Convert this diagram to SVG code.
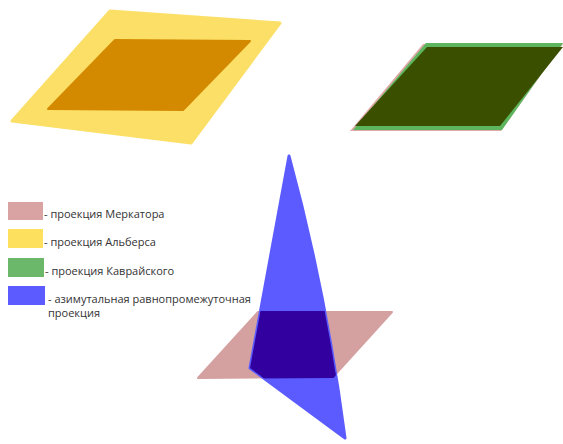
<svg xmlns="http://www.w3.org/2000/svg" width="563" height="444" viewBox="0 0 563 444">
<style>
.t{font-family:"Open Sans","Liberation Sans",sans-serif;font-size:11px;fill:#333}
.r{stroke-linejoin:round}
</style>
<defs>
<clipPath id="blueClip"><path d="M289,156 Q326,292 345,438 L250,368 Z"/></clipPath>
</defs>
<rect width="563" height="444" fill="#fff"/>
<g id="albers">
<polygon class="r" points="110,11 280,23 191,143 12,121" fill="#FBDF66" stroke="#FBDF66" stroke-width="3"/>
<polygon class="r" points="115,40 250,41 183,110 48,109" fill="#D48A00" stroke="#D48A00" stroke-width="2"/>
</g>
<g id="kavraisky">
<polygon points="423,44 563,44 501,131 350,131" fill="#E0A8A8"/>
<polygon points="426,43 563,43 502,130 353,130" fill="#5DB55D"/>
<polygon points="427,47 563,47 500,126 355,126" fill="#3A5000"/>
</g>
<g id="mercator-azimuthal">
<polygon class="r" points="258,312 392,312 333,377 198,378" fill="#D4A0A0" stroke="#D4A0A0" stroke-width="2"/>
<path class="r" d="M289,156 Q326,292 345,438 L250,368 Z" fill="#5B5BFF" stroke="#5B5BFF" stroke-width="3"/>
<polygon class="r" points="258,312 392,312 333,377 198,378" fill="#32009E" stroke="#32009E" stroke-width="2" clip-path="url(#blueClip)"/>
</g>
<g id="legend">
<rect x="8" y="202" width="35" height="18" fill="#D9A3A3"/>
<rect x="8" y="229" width="35" height="19" fill="#FDE05D"/>
<rect x="8" y="258" width="36" height="19" fill="#6BB86B"/>
<rect x="8" y="286" width="37" height="19" fill="#5B5BFF"/>
<text class="t" x="44" y="218">- проекция Меркатора</text>
<text class="t" x="44" y="246">- проекция Альберса</text>
<text class="t" x="45" y="275">- проекция Каврайского</text>
<text class="t" x="48" y="303">- азимутальная равнопромежуточная</text>
<text class="t" x="48" y="317">проекция</text>
</g>
</svg>
